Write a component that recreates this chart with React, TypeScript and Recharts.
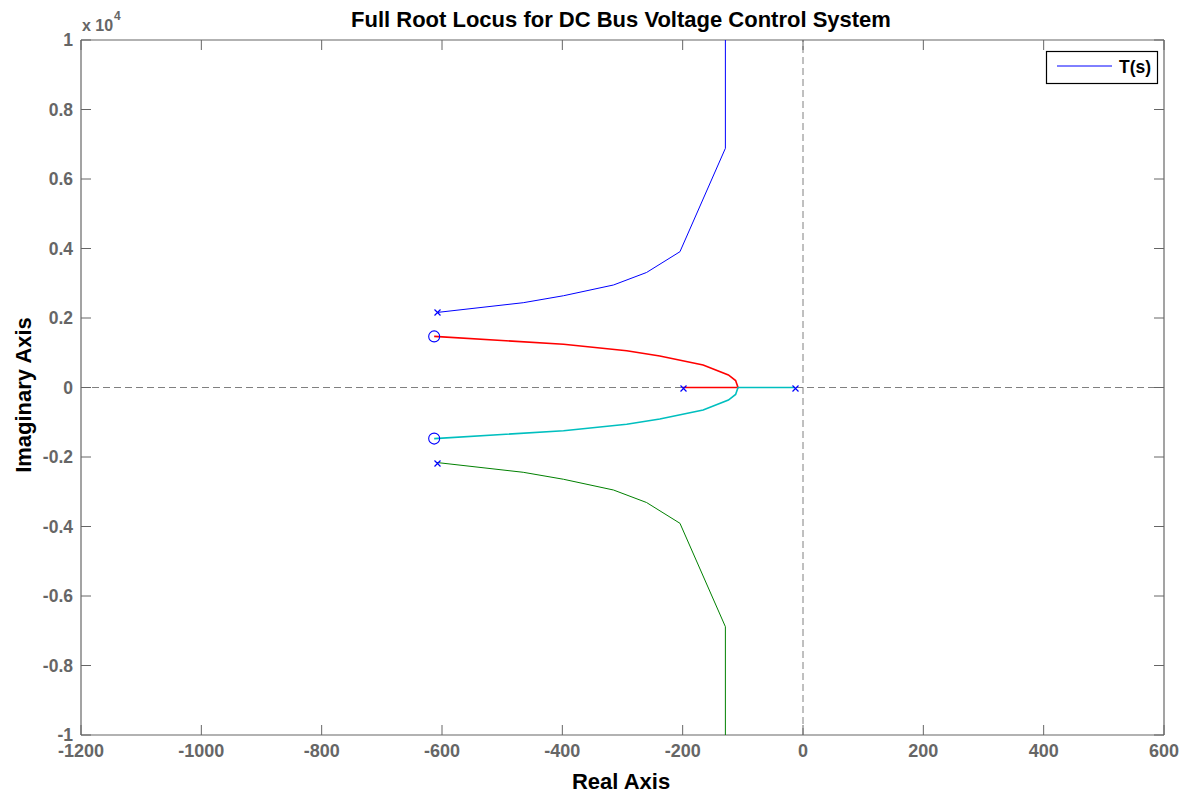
import React from 'react';
import { ComposedChart, Line, Scatter, XAxis, YAxis, ReferenceLine } from 'recharts';

const xTicks = [-1200, -1000, -800, -600, -400, -200, 0, 200, 400, 600];
const yTicks = [-10000, -8000, -6000, -4000, -2000, 0, 2000, 4000, 6000, 8000, 10000];
const yTickLabels = ['-1', '-0.8', '-0.6', '-0.4', '-0.2', '0', '0.2', '0.4', '0.6', '0.8', '1'];

// Branch from upper complex pole (blue)
const upperX = [-608, -465, -398, -315, -260, -204.5, -129, -129];
const upperY = [2160, 2440, 2641, 2950, 3310, 3908, 6883, 10000];
// Branch from lower complex pole (green)
const lowerX = [-608, -465, -398, -315, -260, -204.5, -129, -129];
const lowerY = [-2160, -2440, -2641, -2950, -3310, -3908, -6883, -10000];
// Branch from real pole -200 to upper zero (red)
const redX = [-200, -108, -112, -124, -166, -238, -293, -398, -613];
const redY = [0, 0, 200, 360, 647, 906, 1059, 1243, 1470];
// Branch from real pole -14 to lower zero (cyan)
const cyanX = [-14, -108, -112, -124, -166, -238, -293, -398, -613];
const cyanY = [0, 0, -200, -360, -647, -906, -1059, -1243, -1470];
// Poles and zeros
const poleX = [-608, -608, -200, -14];
const poleY = [2160, -2160, 0, 0];
const zeroX = [-613, -613];
const zeroY = [1470, -1470];

const toPts = (xs: number[], ys: number[]) => xs.map((x, i) => ({ x, y: ys[i] }));

const upperData = toPts(upperX, upperY);
const lowerData = toPts(lowerX, lowerY);
const redData = toPts(redX, redY);
const cyanData = toPts(cyanX, cyanY);
const poleData = toPts(poleX, poleY);
const zeroData = toPts(zeroX, zeroY);

const FONT = '"Liberation Sans", Arial, Helvetica, sans-serif';
const GRAY = '#666666';
const W = 1191;
const H = 793;
const X_DOMAIN: [number, number] = [-1200, 600];
const Y_DOMAIN: [number, number] = [-10000, 10000];

const BottomTick = (p: any) => (
  <g>
    <line x1={p.x} x2={p.x} y1={p.y} y2={p.y - 10} stroke={GRAY} strokeWidth={1} />
    <text x={p.x} y={p.y + 22} textAnchor="middle" fill={GRAY} fontSize={18} fontWeight="bold" fontFamily={FONT}>
      {p.payload.value}
    </text>
  </g>
);

const LeftTick = (p: any) => {
  const idx = yTicks.indexOf(p.payload.value);
  return (
    <g>
      <line x1={p.x} x2={p.x + 10} y1={p.y} y2={p.y} stroke={GRAY} strokeWidth={1} />
      <text x={p.x - 8} y={p.y + 6} textAnchor="end" fill={GRAY} fontSize={17.5} fontWeight="bold" fontFamily={FONT}>
        {idx >= 0 ? yTickLabels[idx] : ''}
      </text>
    </g>
  );
};

const TopTick = (p: any) => (
  <line x1={p.x} x2={p.x} y1={p.y} y2={p.y + 10} stroke={GRAY} strokeWidth={1} />
);

const RightTick = (p: any) => (
  <line x1={p.x} x2={p.x - 10} y1={p.y} y2={p.y} stroke={GRAY} strokeWidth={1} />
);

const PoleShape = (p: any) => {
  const s = 3;
  const cx = Math.round(p.cx) + 0.5;
  const cy = Math.round(p.cy) + 0.5;
  return (
    <path
      d={`M${cx - s},${cy - s}L${cx + s},${cy + s}M${cx - s},${cy + s}L${cx + s},${cy - s}`}
      stroke="#0000ff"
      strokeWidth={1.2}
      fill="none"
    />
  );
};

const ZeroShape = (p: any) => (
  <circle cx={p.cx} cy={p.cy} r={5.5} stroke="#0000ff" strokeWidth={1.1} fill="none" />
);

function BaseLayer() {
  return (
    <ComposedChart width={W} height={H} margin={{ top: 39, right: 26, bottom: 0, left: 0 }}>
      <XAxis xAxisId="b" dataKey="x" type="number" domain={X_DOMAIN} ticks={xTicks} allowDataOverflow
        orientation="bottom" height={58} tickSize={0} tickMargin={0} tickLine={false}
        axisLine={{ stroke: GRAY, strokeWidth: 1.2 }} tick={BottomTick} interval={0} />
      <XAxis xAxisId="t" dataKey="x" type="number" domain={X_DOMAIN} ticks={xTicks} allowDataOverflow
        orientation="top" height={1} tickSize={0} tickMargin={0} tickLine={false}
        axisLine={{ stroke: GRAY, strokeWidth: 1.2 }} tick={TopTick} interval={0} />
      <YAxis yAxisId="l" dataKey="y" type="number" domain={Y_DOMAIN} ticks={yTicks} allowDataOverflow
        orientation="left" width={81} tickSize={0} tickMargin={0} tickLine={false}
        axisLine={{ stroke: GRAY, strokeWidth: 1.2 }} tick={LeftTick} interval={0} />
      <YAxis yAxisId="r" dataKey="y" type="number" domain={Y_DOMAIN} ticks={yTicks} allowDataOverflow
        orientation="right" width={1} tickSize={0} tickMargin={0} tickLine={false}
        axisLine={{ stroke: GRAY, strokeWidth: 1.2 }} tick={RightTick} interval={0} />
      <ReferenceLine xAxisId="b" yAxisId="l" x={0} stroke="#808080" strokeDasharray="7 4" strokeWidth={1} />
      <ReferenceLine xAxisId="b" yAxisId="l" y={0} stroke="#808080" strokeDasharray="7 4" strokeWidth={1} />
      <Scatter xAxisId="t" yAxisId="r" data={[]} dataKey="y" isAnimationActive={false} />
    </ComposedChart>
  );
}

function SeriesLayer() {
  return (
    <ComposedChart width={W} height={H} margin={{ top: 40, right: 27, bottom: 58, left: 81 }}>
      <XAxis xAxisId="b" dataKey="x" type="number" domain={X_DOMAIN} allowDataOverflow hide />
      <YAxis yAxisId="l" dataKey="y" type="number" domain={Y_DOMAIN} allowDataOverflow hide />
      <Line xAxisId="b" yAxisId="l" data={upperData} dataKey="y" stroke="#0000ff" strokeWidth={1} dot={false} isAnimationActive={false} type="linear" />
      <Line xAxisId="b" yAxisId="l" data={lowerData} dataKey="y" stroke="#008000" strokeWidth={1} dot={false} isAnimationActive={false} type="linear" />
      <Line xAxisId="b" yAxisId="l" data={redData} dataKey="y" stroke="#ff0000" strokeWidth={1.6} dot={false} isAnimationActive={false} type="linear" />
      <Line xAxisId="b" yAxisId="l" data={cyanData} dataKey="y" stroke="#00bfbf" strokeWidth={1.6} dot={false} isAnimationActive={false} type="linear" />
      <Scatter xAxisId="b" yAxisId="l" data={poleData} dataKey="y" shape={PoleShape} isAnimationActive={false} />
      <Scatter xAxisId="b" yAxisId="l" data={zeroData} dataKey="y" shape={ZeroShape} isAnimationActive={false} />
    </ComposedChart>
  );
}

export default function App() {
  return (
    <div style={{ position: 'absolute', left: 0, top: 0, width: W, height: H, background: '#fff' }}>
      <div style={{ position: 'absolute', left: 0, top: 0 }}>
        <BaseLayer />
      </div>
      <div style={{ position: 'absolute', left: 0, top: 0 }}>
        <SeriesLayer />
      </div>
      <svg width={W} height={H} style={{ position: 'absolute', left: 0, top: 0, pointerEvents: 'none' }}>
        <text x={621} y={27} textAnchor="middle" fontSize={22} fontWeight="bold" fontFamily={FONT} fill="#000">
          Full Root Locus for DC Bus Voltage Control System
        </text>
        <text x={621} y={789} textAnchor="middle" fontSize={22} fontWeight="bold" fontFamily={FONT} fill="#000">
          Real Axis
        </text>
        <text x={0} y={0} transform="translate(31,395) rotate(-90)" textAnchor="middle" fontSize={22}
          fontWeight="bold" fontFamily={FONT} fill="#000">
          Imaginary Axis
        </text>
        <text x={82} y={31} fontSize={16} fontWeight="bold" fontFamily={FONT} fill={GRAY}>
          x 10
        </text>
        <text x={114} y={20} fontSize={12} fontWeight="bold" fontFamily={FONT} fill={GRAY}>
          4
        </text>
        <rect x={1046.5} y={51.5} width={111} height={32} fill="#fff" stroke="#000" strokeWidth={1.2} />
        <line x1={1057} x2={1112} y1={66} y2={66} stroke="#0000ff" strokeWidth={1} />
        <text x={1119} y={73} fontSize={17.5} fontWeight="bold" fontFamily={FONT} fill="#000">
          T(s)
        </text>
      </svg>
    </div>
  );
}
